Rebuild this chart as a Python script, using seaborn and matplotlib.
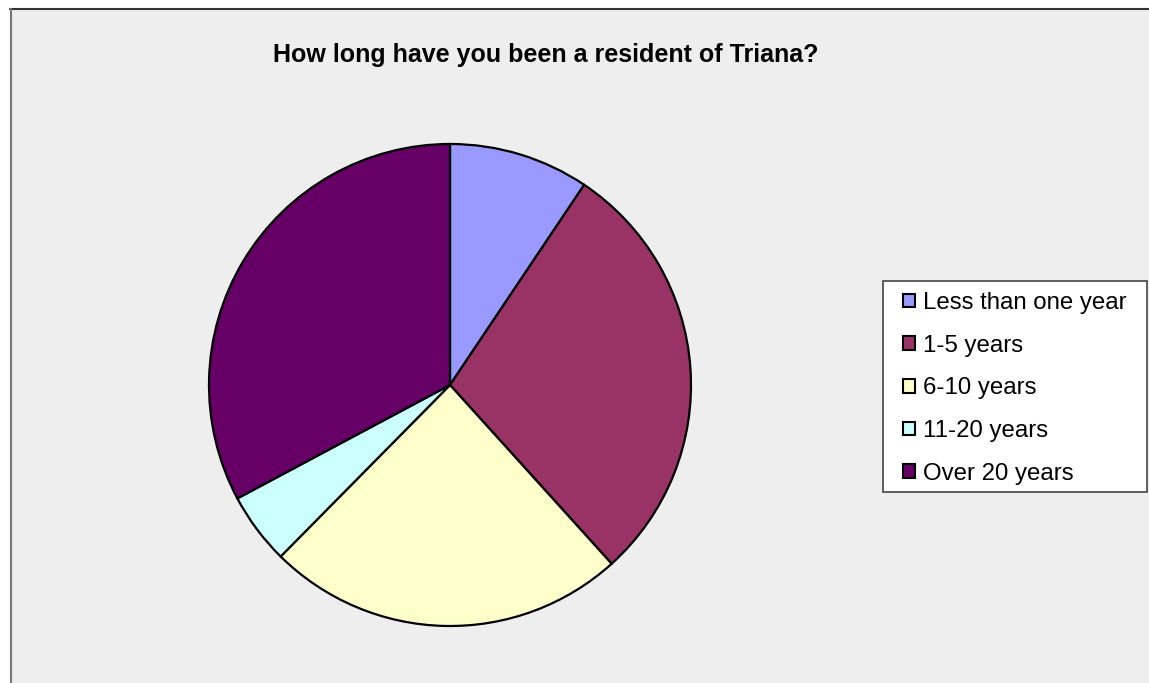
import matplotlib
matplotlib.use("Agg")
import matplotlib.pyplot as plt
import seaborn as sns
from matplotlib.patches import Rectangle, Patch
from matplotlib.lines import Line2D

sns.set_theme(style="white")
plt.rcParams['font.family'] = ['Liberation Sans', 'DejaVu Sans']
plt.rcParams['text.color'] = 'black'

title = "How long have you been a resident of Triana?"
categories = ["Less than one year", "1-5 years", "6-10 years", "11-20 years", "Over 20 years"]
percentages = [9.4, 28.9, 24.1, 4.8, 32.8]
colors = ["#9999FF", "#993366", "#FFFFCC", "#CCFFFF", "#660066"]

W, H = 1149, 683
fig = plt.figure(figsize=(W / 100, H / 100), dpi=100, facecolor="white")

def fx(px):
    return px / W

def fy(py):
    return 1 - py / H

# chart area background and borders
fig.patches.append(Rectangle((fx(10), 0), 1 - fx(10), fy(8), transform=fig.transFigure,
                             facecolor="#EEEEEE", edgecolor="none", zorder=-2))
fig.lines.append(Line2D([fx(10), 1], [fy(8.5), fy(8.5)], transform=fig.transFigure,
                        color="#333333", linewidth=1.5, zorder=-1))
fig.lines.append(Line2D([fx(10.5), fx(10.5)], [0, fy(8.5)], transform=fig.transFigure,
                        color="#777777", linewidth=1.5, zorder=-1))

# pie
cx, cy, r = 450, 385, 241
pad = 1.02
ax = fig.add_axes([fx(cx - r * pad), fy(cy + r * pad), 2 * r * pad / W, 2 * r * pad / H])
ax.set_zorder(1)
wedges, _ = ax.pie(percentages, colors=colors, startangle=90, counterclock=False,
                   wedgeprops=dict(edgecolor="black", linewidth=1.6))
ax.set_xlim(-pad, pad)
ax.set_ylim(-pad, pad)
ax.set_aspect("equal")
ax.axis("off")
ax.patch.set_visible(False)

# title
fig.text(fx(546), fy(62), title, ha="center", va="baseline", fontsize=18,
         fontweight="bold", color="black")

# legend box
fig.patches.append(Rectangle((fx(883), fy(492)), fx(1147) - fx(883), fy(281) - fy(492),
                             transform=fig.transFigure, facecolor="white",
                             edgecolor="#444444", linewidth=1.2, zorder=2))
handles = [Patch(facecolor=c, edgecolor="black", linewidth=1.5) for c in colors]
leg = fig.legend(handles, categories, loc="upper left",
                 bbox_to_anchor=(fx(903), fy(292)), bbox_transform=fig.transFigure,
                 frameon=False, fontsize=17.3, handlelength=0.5, handleheight=0.5,
                 handletextpad=0.33, labelspacing=0.86, borderpad=0, borderaxespad=0)
for t in leg.get_texts():
    t.set_color("black")
leg.set_zorder(3)

fig.savefig("out.png", dpi=100, facecolor="white")
